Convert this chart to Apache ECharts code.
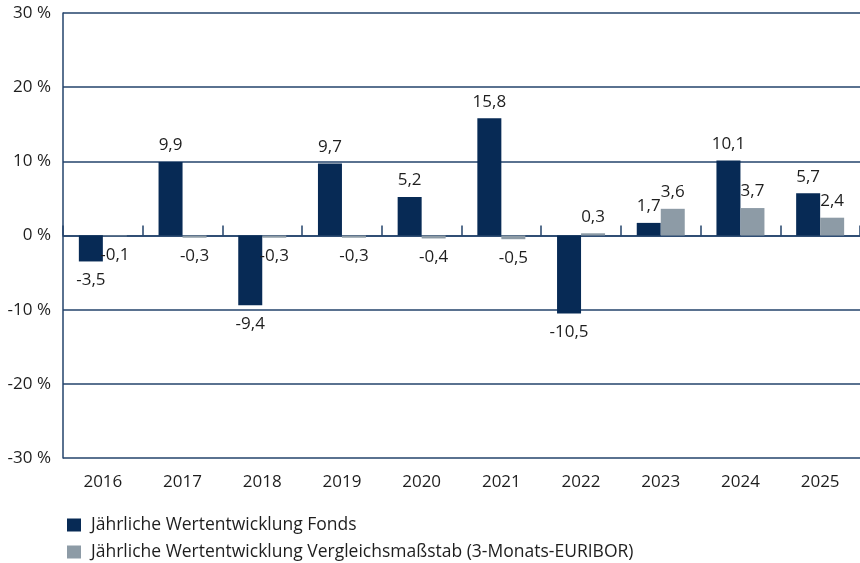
<!DOCTYPE html>
<html>
<head>
<meta charset="utf-8">
<script src="https://cdn.jsdelivr.net/npm/echarts@6/dist/echarts.min.js"></script>
<style>
  html, body { margin: 0; padding: 0; background: #fff; }
  #chart { width: 860px; height: 563px; }
</style>
</head>
<body>
<div id="chart"></div>
<script>
// Jahre und Werte (in %)
var years = ['2016', '2017', '2018', '2019', '2020', '2021', '2022', '2023', '2024', '2025'];
var fonds = [-3.5, 9.9, -9.4, 9.7, 5.2, 15.8, -10.5, 1.7, 10.1, 5.7];
var vergleich = [-0.1, -0.3, -0.3, -0.3, -0.4, -0.5, 0.3, 3.6, 3.7, 2.4];
var seriesNames = [
  'Jährliche Wertentwicklung Fonds',
  'Jährliche Wertentwicklung Vergleichsmaßstab (3-Monats-EURIBOR)'
];

var navy = '#072a55';
var grey = '#8d9ba6';
var lineColor = '#23436b';
var textColor = '#1e1e1e';
var font = '"Open Sans", "Noto Sans", sans-serif';

function fmt(p) {
  return p.value.toFixed(1).replace('.', ',');
}

// Label oben bei positiven, unten bei negativen Werten
function withLabels(values) {
  return values.map(function (v) {
    return {
      value: v,
      label: { position: v < 0 ? 'bottom' : 'top', distance: v < 0 ? 10 : 8 }
    };
  });
}

function barSeries(name, values, color) {
  return {
    name: name,
    type: 'bar',
    barWidth: 24,
    barGap: '0%',
    itemStyle: { color: color },
    label: {
      show: true,
      formatter: fmt,
      color: textColor,
      fontSize: 17,
      fontFamily: font
    },
    data: withLabels(values)
  };
}

function legendRow(name, top) {
  return {
    left: 62,
    top: top,
    itemWidth: 14,
    itemHeight: 13,
    icon: 'rect',
    textStyle: {
      color: textColor,
      fontSize: 17.5,
      fontFamily: font,
      padding: [0, 0, 0, 5]
    },
    data: [name]
  };
}

var option = {
  animation: false,
  grid: { left: 63, top: 13, width: 807, height: 445 },
  legend: [
    legendRow(seriesNames[0], 511),
    legendRow(seriesNames[1], 538)
  ],
  xAxis: [
    {
      type: 'category',
      data: years,
      axisLine: { onZero: true, lineStyle: { color: lineColor, width: 1.5 } },
      axisTick: { show: true, inside: true, length: 10, lineStyle: { color: lineColor, width: 1.5 } },
      axisLabel: { show: false }
    },
    {
      type: 'category',
      data: years,
      position: 'bottom',
      axisLine: { show: false },
      axisTick: { show: false },
      axisLabel: { color: textColor, fontSize: 17, fontFamily: font, margin: 16 }
    }
  ],
  yAxis: {
    type: 'value',
    min: -30,
    max: 30,
    interval: 10,
    axisLine: { show: true, lineStyle: { color: lineColor, width: 1.5 } },
    axisTick: { show: false },
    splitLine: { lineStyle: { color: lineColor, width: 1.5 } },
    axisLabel: {
      formatter: '{value} %',
      color: textColor,
      fontSize: 17,
      fontFamily: font,
      margin: 12
    }
  },
  series: [
    barSeries(seriesNames[0], fonds, navy),
    barSeries(seriesNames[1], vergleich, grey)
  ]
};

echarts.init(document.getElementById('chart')).setOption(option);
</script>
</body>
</html>
